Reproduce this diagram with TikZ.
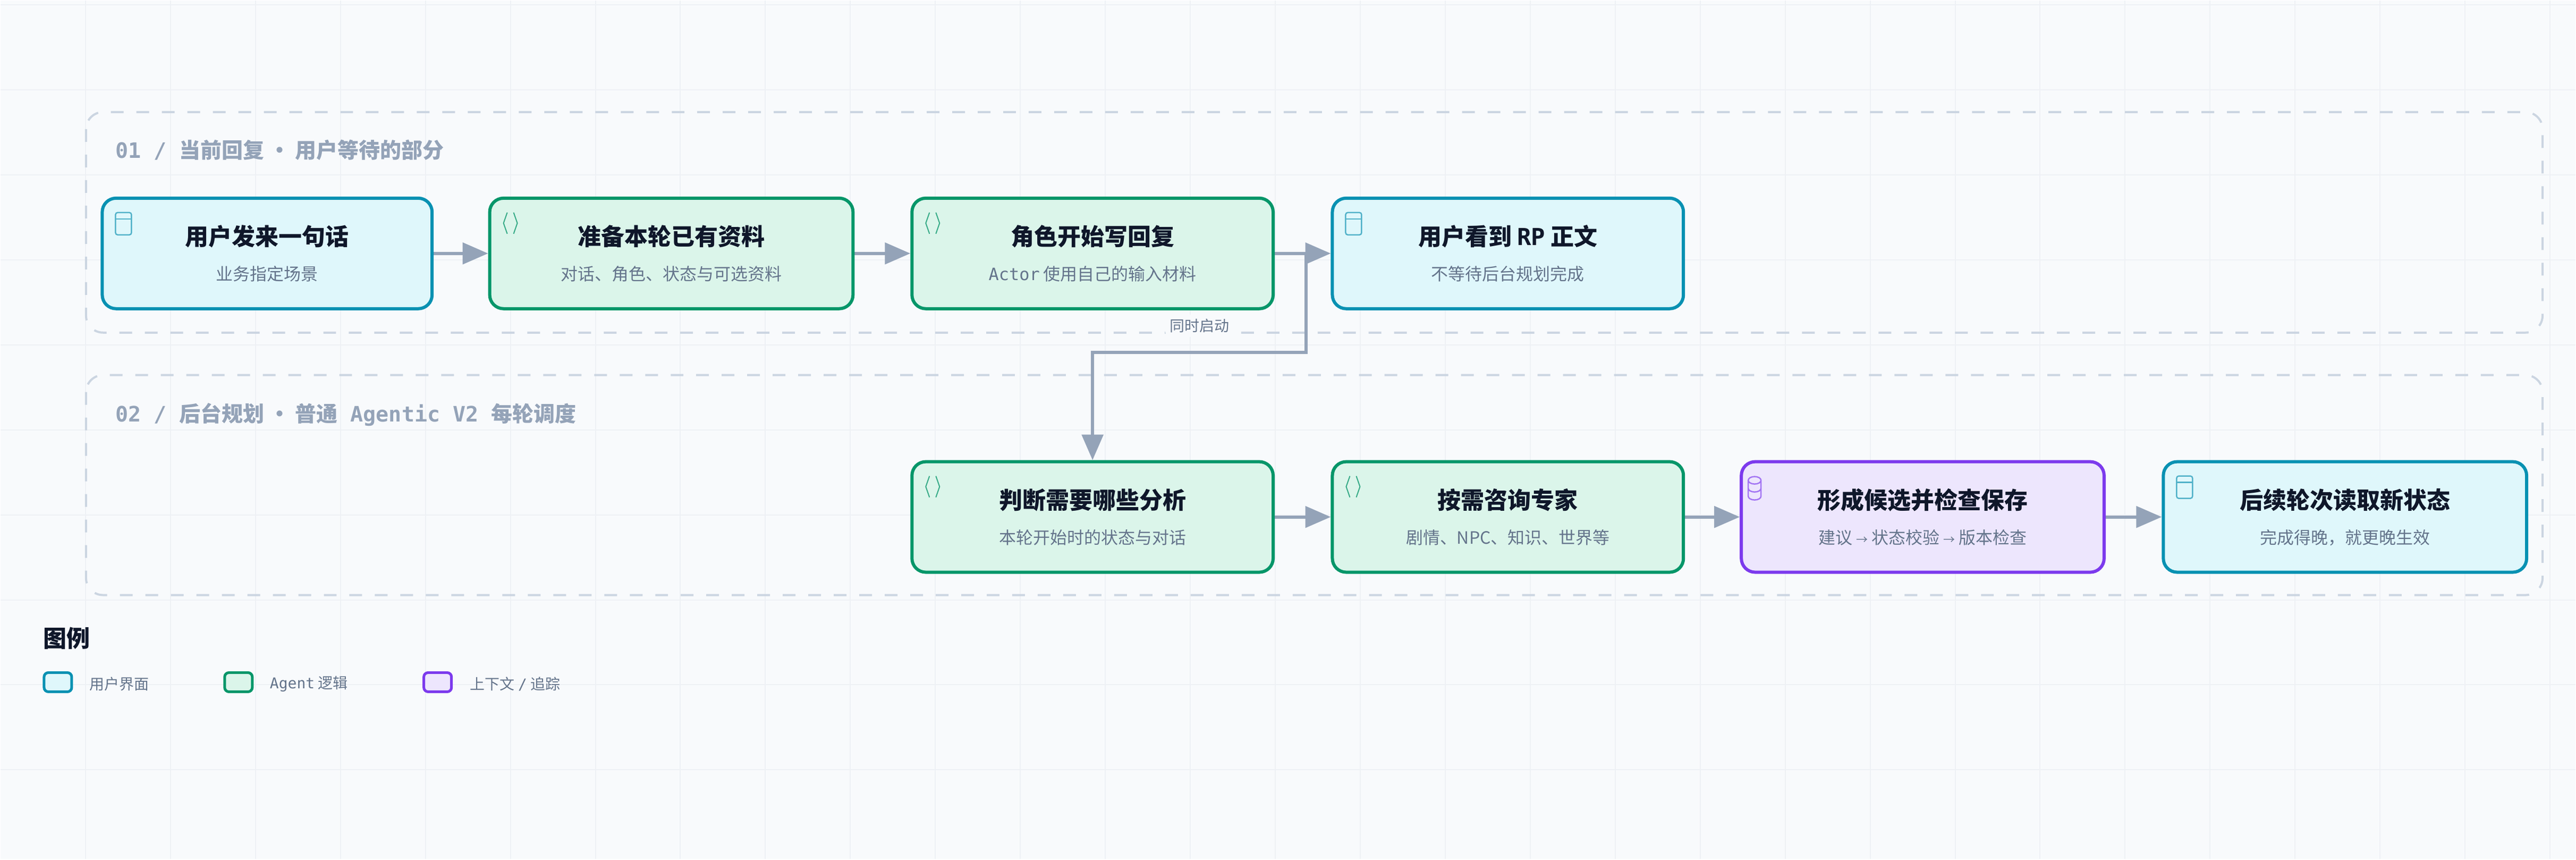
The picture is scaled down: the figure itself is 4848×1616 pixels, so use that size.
\documentclass[tikz,border=0pt]{standalone}
\usepackage{fontspec}
\setmainfont{Noto Sans CJK SC}
\setmonofont{DejaVu Sans Mono}
\newfontfamily\cjk{Noto Sans CJK SC}
\usepackage{tikz}
\usetikzlibrary{arrows.meta}
\pgfdeclarelayer{background}
\pgfdeclarelayer{edgelayer}
\pgfdeclarelayer{nodelayer}
\pgfsetlayers{background,edgelayer,nodelayer,main}
\definecolor{uiline}{HTML}{0891B2}
\definecolor{uifill}{HTML}{DFF7FB}
\definecolor{agline}{HTML}{059669}
\definecolor{agfill}{HTML}{DBF5EA}
\definecolor{ctline}{HTML}{7C3AED}
\definecolor{ctfill}{HTML}{EDE6FD}
\definecolor{flow}{HTML}{94A3B8}
\definecolor{ink}{HTML}{0F172A}
\definecolor{muted}{HTML}{64748B}
\definecolor{paper}{HTML}{F8FAFC}
\definecolor{gridc}{HTML}{EEF1F5}
\definecolor{dashc}{HTML}{CBD5E1}
\tikzstyle{none}=[inner sep=0pt]
\tikzstyle{stage}=[rounded corners=26pt,line width=6pt,minimum height=208pt,align=center,font=\fontsize{44}{52}\selectfont\bfseries,text=ink]
\tikzstyle{ui}=[stage,draw=uiline,fill=uifill]
\tikzstyle{agent}=[stage,draw=agline,fill=agfill]
\tikzstyle{context}=[stage,draw=ctline,fill=ctfill]
\tikzstyle{lane}=[rounded corners=32pt,draw=dashc,line width=4pt,dash pattern=on 24pt off 24pt]
\tikzstyle{lanetitle}=[inner sep=0pt,anchor=west,text=flow,font=\fontsize{40}{46}\selectfont\bfseries]
\tikzstyle{transition}=[-{Triangle[length=48pt,width=40pt]},draw=flow,line width=6pt]
\tikzstyle{swatch}=[rounded corners=8pt,line width=5pt,minimum width=52pt,minimum height=36pt,inner sep=0pt]
\tikzstyle{key}=[inner sep=0pt,anchor=west,text=muted,font=\fontsize{28}{32}\selectfont]
\newcommand{\sub}[1]{\\[14pt]{\fontsize{32}{36}\selectfont\mdseries\color{muted}#1}}
% small corner icons
\newcommand{\winicon}[1]{\draw[uiline!70,line width=2.5pt,rounded corners=4pt] ([shift={(28pt,-30pt)}]#1.north west) rectangle ++(30pt,-42pt);
  \draw[uiline!70,line width=2.5pt] ([shift={(28pt,-42pt)}]#1.north west) -- ++(30pt,0);}
\newcommand{\codeicon}[1]{\draw[agline!80,line width=2pt] ([shift={(36pt,-30pt)}]#1.north west) -- ++(-7pt,-20pt) -- ++(7pt,-20pt)
  ([shift={(48pt,-30pt)}]#1.north west) -- ++(7pt,-20pt) -- ++(-7pt,-20pt);}
\newcommand{\dbicon}[1]{\draw[ctline!70,line width=2.5pt] ([shift={(28pt,-38pt)}]#1.north west) ellipse (12pt and 7pt)
  ([shift={(16pt,-38pt)}]#1.north west) -- ++(0,-30pt) arc (180:360:12pt and 7pt) -- ++(0,30pt)
  ([shift={(16pt,-53pt)}]#1.north west) arc (180:360:12pt and 7pt);}

\begin{document}
\begin{tikzpicture}[x=1pt,y=-1pt]
	\begin{pgfonlayer}{background}
		\fill[paper] (0,0) rectangle (4848,1616);
		\foreach \gx in {160,320,...,4800} \draw[gridc,line width=2pt] (\gx,0) -- (\gx,1616);
		\foreach \gy in {8,168,...,1600} \draw[gridc,line width=2pt] (0,\gy) -- (4848,\gy);
		\draw[style=lane] (161,210) rectangle (4786,625);
		\draw[style=lane] (161,705) rectangle (4786,1119);
	\end{pgfonlayer}
	\begin{pgfonlayer}{nodelayer}
		\node [style=lanetitle] (20) at (216,281) {\ttfamily 01 / {\cjk 当前回复 · 用户等待的部分}};
		\node [style=lanetitle] (21) at (216,779) {\ttfamily 02 / {\cjk 后台规划 · 普通} Agentic V2 {\cjk 每轮调度}};
		\node [style=ui,minimum width=621pt] (0) at (502,476) {用户发来一句话\sub{业务指定场景}};
		\node [style=agent,minimum width=684pt] (1) at (1263,476) {准备本轮已有资料\sub{对话、角色、状态与可选资料}};
		\node [style=agent,minimum width=680pt] (2) at (2056,476) {角色开始写回复\sub{{\ttfamily Actor} 使用自己的输入材料}};
		\node [style=ui,minimum width=661pt] (3) at (2838,476) {用户看到 {\ttfamily RP} 正文\sub{不等待后台规划完成}};
		\node [style=agent,minimum width=680pt] (4) at (2056,972) {判断需要哪些分析\sub{本轮开始时的状态与对话}};
		\node [style=agent,minimum width=661pt] (5) at (2838,972) {按需咨询专家\sub{剧情、NPC、知识、世界等}};
		\node [style=context,minimum width=683pt] (6) at (3619,972) {形成候选并检查保存\sub{建议 {\fontsize{22}{26}\selectfont →} 状态校验 {\fontsize{22}{26}\selectfont →} 版本检查}};
		\node [style=ui,minimum width=684pt] (7) at (4414,972) {后续轮次读取新状态\sub{完成得晚，就更晚生效}};
		\coordinate (8) at (2458,476);
		\coordinate (9) at (2458,662);
		\node [fill=paper,rounded corners=10pt,inner sep=8pt,text=muted,font=\fontsize{28}{32}\selectfont] (10) at (2257,612) {同时启动};
		\node [inner sep=0pt,anchor=west,text=ink,font=\fontsize{44}{50}\selectfont\bfseries] (11) at (80,1200) {图例};
		\node [style=swatch,draw=uiline,fill=uifill] (12) at (108,1283) {};
		\node [style=key] (13) at (167,1286) {用户界面};
		\node [style=swatch,draw=agline,fill=agfill] (14) at (448,1283) {};
		\node [style=key] (15) at (507,1286) {{\ttfamily Agent} 逻辑};
		\node [style=swatch,draw=ctline,fill=ctfill] (16) at (823,1283) {};
		\node [style=key] (17) at (884,1286) {上下文 {\ttfamily /} 追踪};
		\winicon{0} \codeicon{1} \codeicon{2} \winicon{3}
		\codeicon{4} \codeicon{5} \dbicon{6} \winicon{7}
	\end{pgfonlayer}
	\begin{pgfonlayer}{edgelayer}
		\draw [style=transition] (0) to (1);
		\draw [style=transition] (1) to (2);
		\draw [style=transition] (2) to (3);
		\draw [style=transition] (8) -- (9) -| (4);
		\draw [style=transition] (4) to (5);
		\draw [style=transition] (5) to (6);
		\draw [style=transition] (6) to (7);
	\end{pgfonlayer}
\end{tikzpicture}
\end{document}
